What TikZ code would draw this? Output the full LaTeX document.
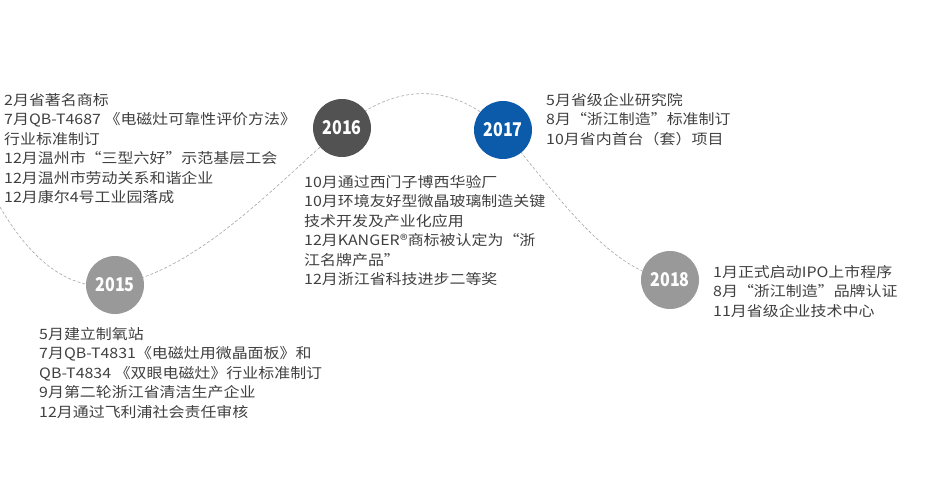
\documentclass[tikz,border=0pt]{standalone}
\usepackage{fontspec}
\setmainfont{Noto Sans CJK SC}
\newfontfamily\widecjk[FakeStretch=1.12]{Noto Sans CJK SC}
\newfontfamily\narrowyr[FakeStretch=0.85]{Noto Sans CJK SC}
\begin{document}
\begin{tikzpicture}[x=1bp,y=-1bp,
  yr/.style={circle,minimum size=58bp,inner sep=0pt,text=white,font=\narrowyr\fontsize{19}{19}\selectfont\bfseries},
  txt/.style={anchor=north west,align=left,inner sep=0pt,text=black!75,font=\widecjk\fontsize{14.3}{19.6}\selectfont}]
\useasboundingbox (0,0) rectangle (927,504);
\coordinate (s) at (0,207);
\draw[black!35,dashed,dash pattern=on 3bp off 2bp,line width=0.6bp]
 (s) .. controls (40,275) and (80,290) .. (115,285)
 .. controls (200,270) and (280,180) .. (342,128)
 .. controls (380,95) and (440,70) .. (503,130)
 .. controls (560,200) and (610,270) .. (670,280);
\node[yr,fill=black!40] (y15) at (115,285) {2015};
\node[yr,fill=black!68] (y16) at (342,128) {2016};
\node[yr,fill={rgb,255:red,12;green,90;blue,170}] (y17) at (503,130) {2017};
\node[yr,fill=black!40] (y18) at (670,280) {2018};
\node[txt] (t1) at (4,93) {2月省著名商标\\7月QB-T4687 《电磁灶可靠性评价方法》\\行业标准制订\\12月温州市“三型六好”示范基层工会\\12月温州市劳动关系和谐企业\\12月康尔4号工业园落成};
\node[txt] (t16) at (304,175) {10月通过西门子博西华验厂\\10月环境友好型微晶玻璃制造关键\\技术开发及产业化应用\\12月KANGER®商标被认定为“浙\\江名牌产品”\\12月浙江省科技进步二等奖};
\node[txt] (t17) at (546,93) {5月省级企业研究院\\8月“浙江制造”标准制订\\10月省内首台（套）项目};
\node[txt] (t18) at (713,265) {1月正式启动IPO上市程序\\8月“浙江制造”品牌认证\\11月省级企业技术中心};
\node[txt] (t15) at (39,327) {5月建立制氧站\\7月QB-T4831《电磁灶用微晶面板》和\\QB-T4834 《双眼电磁灶》行业标准制订\\9月第二轮浙江省清洁生产企业\\12月通过飞利浦社会责任审核};
\end{tikzpicture}
\end{document}
